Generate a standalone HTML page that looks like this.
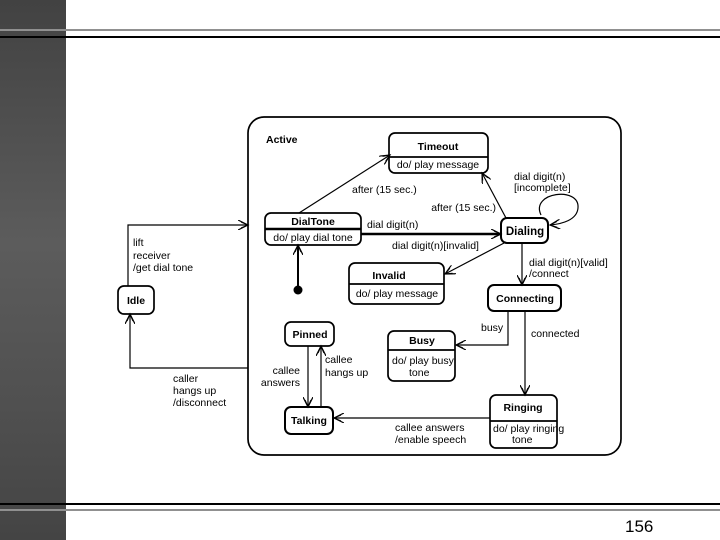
<!DOCTYPE html>
<html><head><style>
html,body{margin:0;padding:0;background:#fff}
body{width:720px;height:540px;position:relative;overflow:hidden}
.side{position:absolute;left:0;top:0;width:66px;height:540px;background:linear-gradient(#424242,#5c5c5c 45%,#505050 75%,#444)}
svg{position:absolute;left:0;top:0}
text{font-family:"Liberation Sans",sans-serif;font-size:10.5px;fill:#000}
.b{font-weight:bold}
</style></head><body>
<div class="side"></div>
<svg width="720" height="540" viewBox="0 0 720 540">
<defs>
<marker id="a" markerWidth="12" markerHeight="10" refX="10" refY="5" orient="auto" markerUnits="userSpaceOnUse">
<path d="M0,0 L10,5 L0,10 M3,2 L10,5 L3,8" fill="none" stroke="#000" stroke-width="1.2"/></marker>
</defs>
<line x1="0" y1="30" x2="720" y2="30" stroke="#909090" stroke-width="2"/>
<line x1="0" y1="37" x2="720" y2="37" stroke="#000" stroke-width="2"/>
<line x1="0" y1="504" x2="720" y2="504" stroke="#000" stroke-width="2"/>
<line x1="0" y1="510" x2="720" y2="510" stroke="#909090" stroke-width="2"/>
<text x="625" y="532" style="font-size:17px">156</text>

<g fill="none" stroke="#000" stroke-width="1.7">
<rect x="248" y="117" width="373" height="338" rx="16"/>
<rect x="389" y="133" width="99" height="40" rx="6"/><line x1="389" y1="157" x2="488" y2="157"/>
<rect x="265" y="213" width="96" height="32" rx="6"/><line x1="265" y1="229" x2="361" y2="229" stroke-width="2.5"/>
<rect x="501" y="218" width="47" height="25" rx="6" stroke-width="2"/>
<rect x="349" y="263" width="95" height="41" rx="6"/><line x1="349" y1="284" x2="444" y2="284"/>
<rect x="488" y="285" width="73" height="26" rx="6" stroke-width="2"/>
<rect x="388" y="331" width="67" height="50" rx="6"/><line x1="388" y1="350" x2="455" y2="350"/>
<rect x="285" y="322" width="49" height="24" rx="6"/>
<rect x="285" y="407" width="48" height="27" rx="6" stroke-width="2"/>
<rect x="490" y="395" width="67" height="53" rx="6"/><line x1="490" y1="421" x2="557" y2="421"/>
<rect x="118" y="286" width="36" height="28" rx="6"/>
</g>
<circle cx="298" cy="290" r="4.5"/>

<g fill="none" stroke="#000" stroke-width="1.2">
<polyline points="128,286 128,225 248,225" marker-end="url(#a)"/>
<polyline points="248,368 130,368 130,314" marker-end="url(#a)"/>
<line x1="299" y1="213" x2="390" y2="155" marker-end="url(#a)"/>
<line x1="506" y1="218" x2="482" y2="173" marker-end="url(#a)"/>
<line x1="361" y1="234" x2="501" y2="234" stroke-width="2.5" marker-end="url(#a)"/>
<line x1="506" y1="242" x2="445" y2="274" marker-end="url(#a)"/>
<path d="M541,215 C530,192 580,186 578,208 C577,220 562,224 550,225" marker-end="url(#a)"/>
<line x1="522" y1="243" x2="522" y2="285" marker-end="url(#a)"/>
<polyline points="508,311 508,345 456,345" marker-end="url(#a)"/>
<line x1="525" y1="311" x2="525" y2="395" marker-end="url(#a)"/>
<line x1="490" y1="418" x2="334" y2="418" marker-end="url(#a)"/>
<line x1="308" y1="346" x2="308" y2="407" marker-end="url(#a)"/>
<line x1="321" y1="407" x2="321" y2="346" marker-end="url(#a)"/>
<line x1="298" y1="290" x2="298" y2="245" stroke-width="2" marker-end="url(#a)"/>
</g>

<text x="266" y="143" class="b">Active</text>
<text x="438" y="150" class="b" text-anchor="middle">Timeout</text>
<text x="438" y="168" text-anchor="middle">do/ play message</text>
<text x="313" y="225" class="b" text-anchor="middle">DialTone</text>
<text x="313" y="241" text-anchor="middle">do/ play dial tone</text>
<text x="525" y="235" class="b" text-anchor="middle" style="font-size:11.5px">Dialing</text>
<text x="389" y="279" class="b" text-anchor="middle">Invalid</text>
<text x="397" y="297" text-anchor="middle">do/ play message</text>
<text x="525" y="302" class="b" text-anchor="middle">Connecting</text>
<text x="422" y="344" class="b" text-anchor="middle">Busy</text>
<text x="392" y="364">do/ play busy</text>
<text x="409" y="376">tone</text>
<text x="310" y="338" class="b" text-anchor="middle">Pinned</text>
<text x="309" y="424" class="b" text-anchor="middle">Talking</text>
<text x="523" y="411" class="b" text-anchor="middle">Ringing</text>
<text x="493" y="432">do/ play ringing</text>
<text x="512" y="443">tone</text>
<text x="136" y="304" class="b" text-anchor="middle">Idle</text>

<text x="133" y="246">lift</text>
<text x="133" y="259">receiver</text>
<text x="133" y="271">/get dial tone</text>
<text x="173" y="382">caller</text>
<text x="173" y="394">hangs up</text>
<text x="173" y="406">/disconnect</text>
<text x="352" y="193">after (15 sec.)</text>
<text x="496" y="211" text-anchor="end">after (15 sec.)</text>
<text x="367" y="228">dial digit(n)</text>
<text x="392" y="249">dial digit(n)[invalid]</text>
<text x="514" y="180">dial digit(n)</text>
<text x="514" y="191">[incomplete]</text>
<text x="529" y="266">dial digit(n)[valid]</text>
<text x="529" y="277">/connect</text>
<text x="481" y="331">busy</text>
<text x="531" y="337">connected</text>
<text x="395" y="431">callee answers</text>
<text x="395" y="443">/enable speech</text>
<text x="300" y="374" text-anchor="end">callee</text>
<text x="300" y="386" text-anchor="end">answers</text>
<text x="325" y="363">callee</text>
<text x="325" y="376">hangs up</text>
</svg>
</body></html>
